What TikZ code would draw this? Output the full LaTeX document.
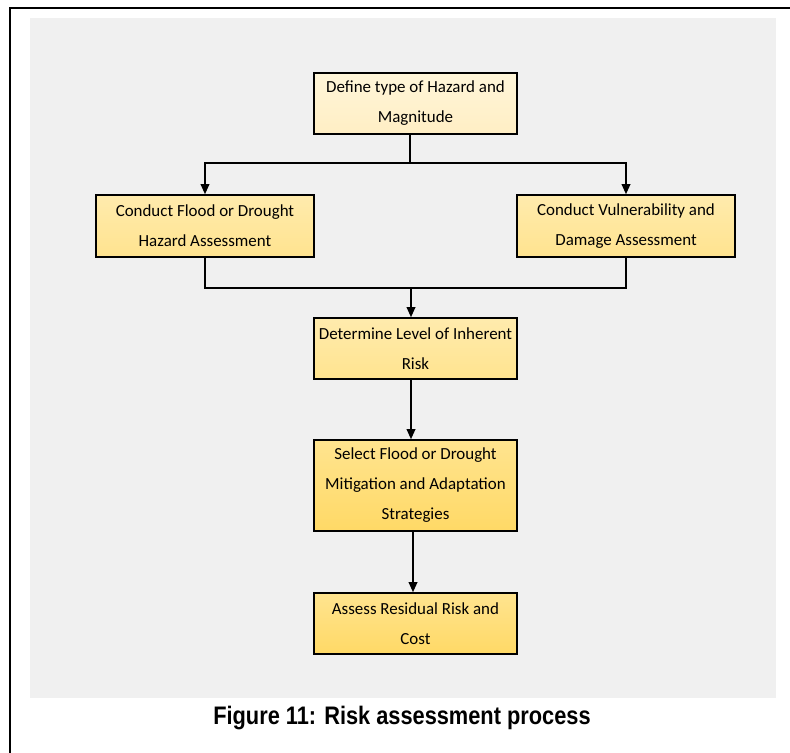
\documentclass[tikz,border=0pt]{standalone}
\usepackage{fontspec}
\setmainfont{Carlito}
\newfontfamily\capfont{Liberation Sans}
\usetikzlibrary{arrows.meta,positioning}

\definecolor{bggray}{HTML}{F0F0F0}
\definecolor{paleA}{HTML}{FFF6D9}
\definecolor{paleB}{HTML}{FFEEC4}
\definecolor{midA}{HTML}{FFEBAD}
\definecolor{midB}{HTML}{FFE38F}
\definecolor{deepA}{HTML}{FFE48F}
\definecolor{deepB}{HTML}{FFD966}

\tikzset{
  stepbox/.style={draw=black,line width=1.2pt,align=center,inner sep=0pt,
    font=\fontsize{12.7pt}{22.5pt}\selectfont},
  link/.style={line width=1pt,draw=black},
  arr/.style={link,-{Triangle[length=7.5pt,width=6.5pt]}}
}

\begin{document}
\begin{tikzpicture}[x=0.75pt,y=-0.75pt]
\useasboundingbox (0,0) rectangle (790,753);
% frame and panel
\fill[bggray] (30,18) rectangle (776,698);
\draw[line width=1.6pt] (10,753) -- (10,8) -- (790,8);
% boxes
\node[stepbox,top color=paleA,bottom color=paleB,minimum width=152.25pt,minimum height=45.75pt]
  (hazard) at (415.5,103.5) {Define type of Hazard and\\Magnitude};
\node[stepbox,top color=midA,bottom color=midB,minimum width=163.5pt,minimum height=46.5pt]
  (flood) at (205,226) {Conduct Flood or Drought\\Hazard Assessment};
\node[stepbox,top color=midA,bottom color=midB,minimum width=163.5pt,minimum height=46.5pt]
  (vuln) at (626,226) {Conduct Vulnerability and\\Damage Assessment};
\node[stepbox,top color=midA,bottom color=deepA!70!midB,minimum width=152.25pt,minimum height=45.75pt]
  (risk) at (415.5,348.5) {Determine Level of Inherent\\Risk};
\node[stepbox,top color=deepA,bottom color=deepB,minimum width=152.25pt,minimum height=68.25pt]
  (select) at (415.5,485.5) {Select Flood or Drought\\Mitigation and Adaptation\\Strategies};
\node[stepbox,top color=deepA,bottom color=deepB,minimum width=152.25pt,minimum height=45.75pt]
  (residual) at (415.5,623.5) {Assess Residual Risk and\\Cost};
% connectors
\coordinate (split) at (410,163);
\coordinate (join) at (411,288);
\draw[link] (hazard.south -| split) -- (split);
\draw[arr] (split) -| (flood.north);
\draw[arr] (split) -| (vuln.north);
\draw[link] (flood.south) |- (join) -| (vuln.south);
\draw[arr] (join) -- (join |- risk.north);
\draw[arr] (risk.south -| join) -- (join |- select.north);
\draw[arr] (select.south -| 413,0) -- (413,0 |- residual.north);
% caption
\node[font=\capfont\bfseries\fontsize{19pt}{22pt}\selectfont] (caption) at (402,718)
  {\scalebox{0.86}[1]{Figure 11: Risk assessment process}};
\end{tikzpicture}
\end{document}
